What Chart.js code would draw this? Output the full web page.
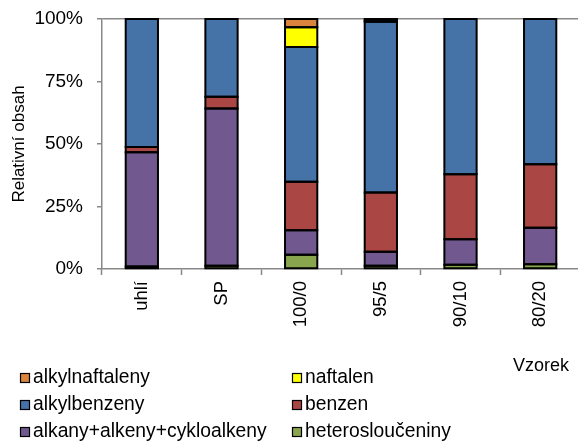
<!DOCTYPE html>
<html>
<head>
<meta charset="utf-8">
<script src="https://cdn.jsdelivr.net/npm/chart.js@4/dist/chart.umd.min.js"></script>
<style>
html,body{margin:0;padding:0;background:#fff;overflow:hidden;}
#wrap{width:582px;height:443px;position:relative;}
</style>
</head>
<body>
<div id="wrap"><canvas id="c" width="582" height="443"></canvas></div>
<script>
const categories = ['uhlí', 'SP', '100/0', '95/5', '90/10', '80/20'];
const heterosloučeniny = [1.0, 1.3, 5.7, 1.3, 1.7, 1.9];
const alkany = [45.7, 62.9, 9.8, 5.6, 10.2, 14.6];
const benzen = [2.1, 4.7, 19.4, 23.7, 26.0, 25.4];
const alkylbenzeny = [51.2, 31.1, 53.9, 68.3, 62.1, 58.1];
const naftalen = [0, 0, 7.9, 0.5, 0, 0];
const alkylnaftaleny = [0, 0, 3.3, 0.6, 0, 0];
const yTicks = [0, 25, 50, 75, 100];

const FONT = '"Liberation Sans", Arial, sans-serif';

const datasets = [
  {label: 'heterosloučeniny', data: heterosloučeniny, backgroundColor: '#89A54E'},
  {label: 'alkany+alkeny+cykloalkeny', data: alkany, backgroundColor: '#71588F'},
  {label: 'benzen', data: benzen, backgroundColor: '#AA4643'},
  {label: 'alkylbenzeny', data: alkylbenzeny, backgroundColor: '#4572A7'},
  {label: 'naftalen', data: naftalen, backgroundColor: '#FFFF00'},
  {label: 'alkylnaftaleny', data: alkylnaftaleny, backgroundColor: '#DB843D'}
].map(d => Object.assign(d, {borderColor: '#000', borderWidth: 0,
  inflateAmount: 0, categoryPercentage: 1, barPercentage: 0.405}));

const legendOrder = ['alkylnaftaleny', 'naftalen', 'alkylbenzeny', 'benzen', 'alkany+alkeny+cykloalkeny', 'heterosloučeniny'];

const barOutline = {
  id: 'barOutline',
  afterDatasetsDraw(chart) {
    const ctx = chart.ctx;
    ctx.save();
    ctx.strokeStyle = '#000';
    ctx.lineWidth = 2;
    chart.data.datasets.forEach((ds, i) => {
      const meta = chart.getDatasetMeta(i);
      meta.data.forEach((el, j) => {
        if (!ds.data[j]) return;
        const {x, y, base, width} = el.getProps(['x', 'y', 'base', 'width'], true);
        const top = Math.min(y, base), h = Math.abs(base - y);
        ctx.strokeRect(x - width / 2, top, width, h);
      });
    });
    ctx.restore();
  }
};

const customLegend = {
  id: 'customLegend',
  afterDraw(chart) {
    const ctx = chart.ctx;
    ctx.save();
    ctx.font = '19.3px ' + FONT;
    ctx.textBaseline = 'middle';
    ctx.textAlign = 'left';
    const colX = [20, 292];
    const rowY = [378, 405, 432];
    legendOrder.forEach((name, i) => {
      const ds = chart.data.datasets.find(d => d.label === name);
      const x = colX[i % 2], y = rowY[Math.floor(i / 2)];
      ctx.fillStyle = ds.backgroundColor;
      ctx.fillRect(x, y - 5, 10, 10);
      ctx.strokeStyle = '#000';
      ctx.lineWidth = 1.2;
      ctx.strokeRect(x + 0.5, y - 4.5, 9, 9);
      ctx.fillStyle = '#000';
      ctx.fillText(name, x + 13, y);
    });
    ctx.font = '18px ' + FONT;
    ctx.textAlign = 'right';
    ctx.fillText('Vzorek', 569, 366);
    ctx.restore();
  }
};

new Chart(document.getElementById('c'), {
  type: 'bar',
  data: {labels: categories, datasets},
  options: {
    responsive: false,
    animation: false,
    events: [],
    layout: {padding: {top: 19, right: 2, left: 0, bottom: 0}},
    plugins: {legend: {display: false}, tooltip: {enabled: false}},
    scales: {
      x: {
        stacked: true,
        offset: true,
        grid: {offset: true, drawOnChartArea: false, tickLength: 6, tickColor: '#888', tickWidth: 1.5},
        border: {color: '#888', width: 1.5},
        ticks: {color: '#000', font: {family: FONT, size: 18.5}, maxRotation: 90, minRotation: 90, padding: 6},
        afterFit(s) { s.height = 174; s.paddingLeft = 0; s.paddingRight = 0; }
      },
      y: {
        stacked: true,
        min: 0, max: 100,
        afterBuildTicks(s) { s.ticks = yTicks.map(v => ({value: v})); },
        grid: {
          color: c => (c.tick && c.tick.value === 100) ? '#888' : 'rgba(0,0,0,0)',
          lineWidth: 1.5,
          tickLength: 5, tickColor: '#888', tickWidth: 1.5
        },
        border: {color: '#888', width: 1.5},
        ticks: {color: '#000', font: {family: FONT, size: 19}, padding: 14, callback: v => v + '%'},
        title: {display: true, text: 'Relativní obsah', color: '#000', font: {family: FONT, size: 17}, padding: {top: 9, bottom: 0}},
        afterFit(s) { s.width = 102; s.paddingTop = 0; s.paddingBottom = 0; }
      }
    }
  },
  plugins: [barOutline, customLegend]
});
</script>
</body>
</html>
